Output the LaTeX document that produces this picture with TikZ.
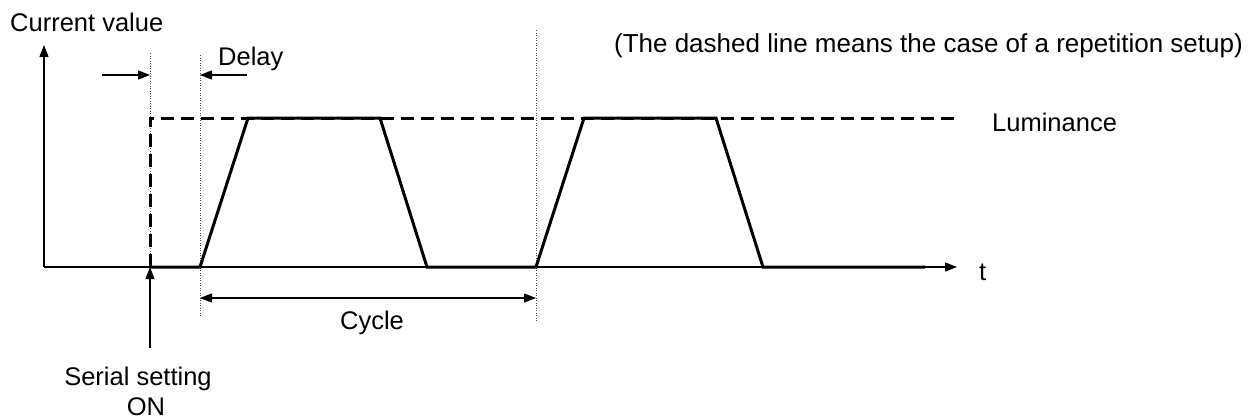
\documentclass[tikz,border=0pt]{standalone}
\usepackage{fontspec}
\setmainfont{Liberation Sans}
\usetikzlibrary{arrows.meta}

\begin{document}
\begin{tikzpicture}[
  x=1pt,y=-1pt,
  font=\fontsize{25.5}{30}\selectfont,
  txt/.style={inner sep=0pt},
  arr/.style={line width=1.3pt,-{Triangle[length=12pt,width=9pt]}},
  sig/.style={line width=3pt,line join=miter},
  lumline/.style={line width=3pt,dash pattern=on 13pt off 7pt},
  guide/.style={line width=1pt,black!70,dash pattern=on 1pt off 1.5pt}
]
\useasboundingbox (0,0) rectangle (1254,418);
% axes
\coordinate (origin) at (44,267);
\coordinate (ytip) at (44,45);
\coordinate (xtip) at (957,267);
\draw[arr] (origin) -- (ytip);
\draw[arr] (origin) -- (xtip);
\node[txt,anchor=base west] (ylabel) at (10,31) {Current value};
\node[txt,anchor=base west] (tlabel) at (979,280) {t};
% guides
\coordinate (on) at (150,267);
\coordinate (start) at (200,267);
\coordinate (next) at (536,267);
\draw[guide] (150,53) -- (on);
\draw[guide] (200,55) -- (200,317);
\draw[guide] (536,30) -- (536,322);
% luminance level
\coordinate (lumend) at (957,118);
\draw[lumline] (on) -- (150,118) -- (lumend);
\node[txt,anchor=base west] (lum) at (992,131) {Luminance};
% current value
\draw[sig] (on) -- (start) -- (248,118) -- (380,118) -- (427,267)
  -- (next) -- (584,118) -- (716,118) -- (763,267) -- (925,267);
% delay
\draw[arr] (102,75) -- (150,75);
\draw[arr] (247,75) -- (200,75);
\node[txt,anchor=base west] (delay) at (218,65) {Delay};
% cycle
\draw[arr,{Triangle[length=12pt,width=9pt]}-{Triangle[length=12pt,width=9pt]}] (200,298) -- (536,298);
\node[txt,anchor=base] (cycle) at (372,329) {Cycle};
% serial setting
\node[txt,anchor=base] (serial) at (138,385) {Serial setting};
\node[txt,anchor=base] (serialon) at (146,415) {ON};
\draw[arr] (150,348) -- (on);
\node[txt,anchor=base east,font=\fontsize{26}{30}\selectfont] (note) at (1243,52) {(The dashed line means the case of a repetition setup)};
\end{tikzpicture}
\end{document}
